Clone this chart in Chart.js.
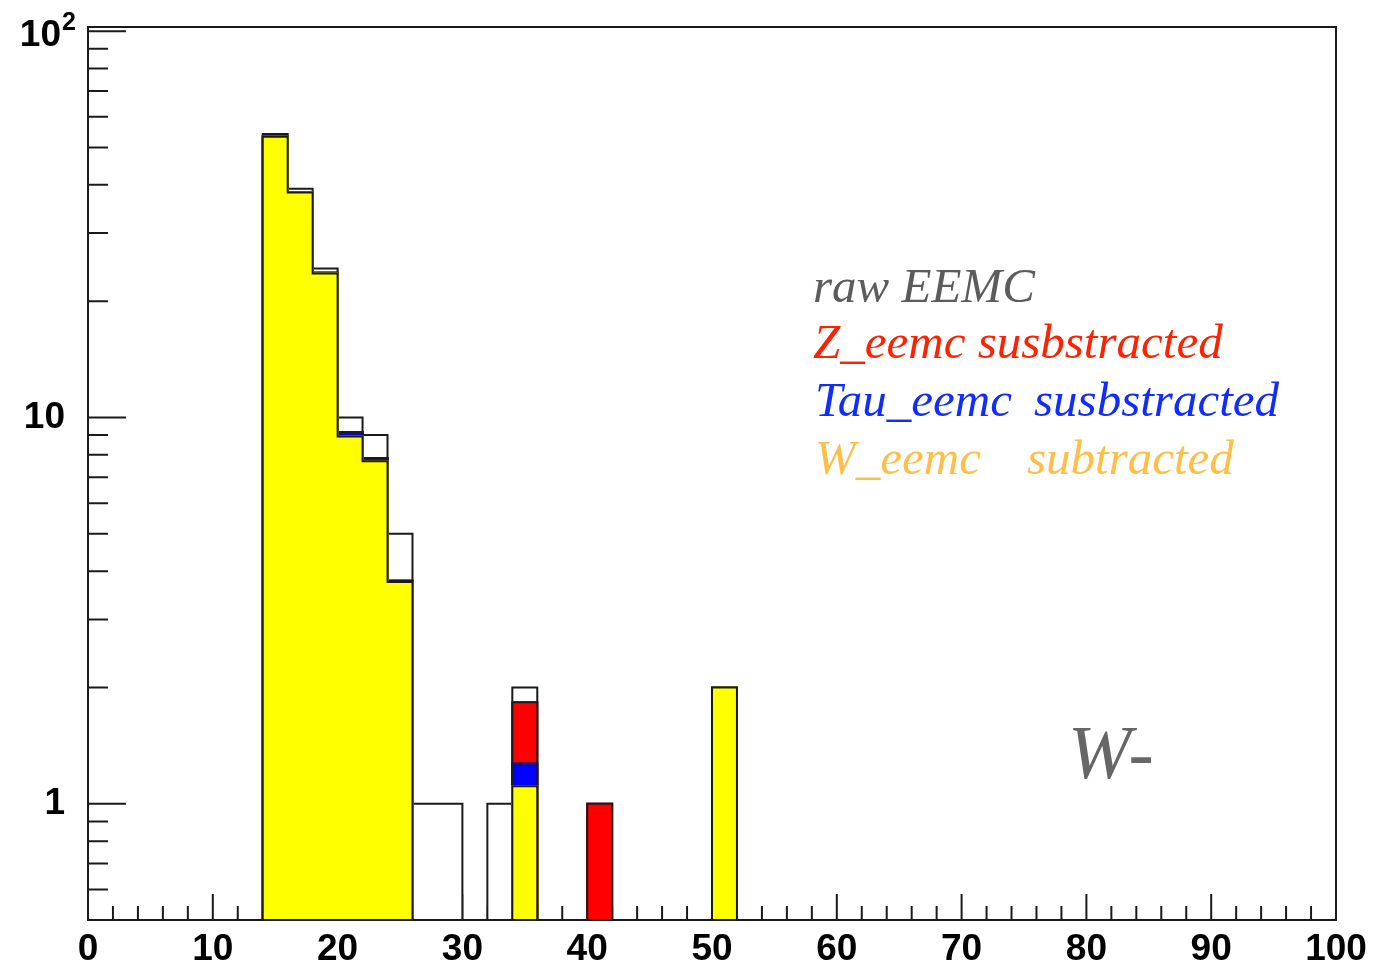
<!DOCTYPE html>
<html>
<head>
<meta charset="utf-8">
<script src="https://cdn.jsdelivr.net/npm/chart.js@4.4.0/dist/chart.umd.min.js"></script>
<style>
  html, body { margin: 0; padding: 0; background: #fff; }
  #wrap { width: 1375px; height: 969px; }
</style>
</head>
<body>
<div id="wrap"><canvas id="histChart" width="1375" height="969"></canvas></div>
<script>
// histogram bins (centre of each 2-unit bin that has entries)
const binWidth = 2;
const binCenters    = [15, 17, 19, 21, 23, 25, 27, 29, 33, 35, 41, 51];
const rawCounts     = [54.2, 39.1, 24.3, 10.0, 9.0, 5.0, 1, 1, 1, 2.0, 1, 2];
const zSubtracted   = [53.4, 38.3, 23.7, 9.15, 7.84, 3.78, null, null, null, 1.83, 1, 2];
const tauSubtracted = [53.4, 38.3, 23.7, 9.15, 7.84, 3.78, null, null, null, 1.27, null, 2];
const wSubtracted   = [53.3, 38.2, 23.6, 8.93, 7.70, 3.75, null, null, null, 1.11, null, 2];

const xTicks = [0, 10, 20, 30, 40, 50, 60, 70, 80, 90, 100];
const yTicks = [1, 10, 100];
const yMin = 0.5, yMax = 102.5;

const labelFont = { family: 'Liberation Sans', size: 37, weight: 'bold' };

function toPoints(values) {
    return binCenters.map((c, i) => ({ x: c, y: values[i] }));
}

// ROOT-like outline: step contour along the top of each histogram
const histOutline = {
    id: 'histOutline',
    afterDatasetDraw(chart, args) {
        const ds = chart.data.datasets[args.index];
        const xs = chart.scales.x, ys = chart.scales.y;
        const ctx = chart.ctx;
        const area = chart.chartArea;
        const base = ys.getPixelForValue(ys.min);
        ctx.save();
        ctx.beginPath();
        ctx.rect(area.left, area.top, area.right - area.left, area.bottom - area.top);
        ctx.clip();
        ctx.beginPath();
        let prevHi = xs.getPixelForValue(xs.min);
        let prevTop = base;
        ctx.moveTo(prevHi, base);
        ds.data.forEach(p => {
            const lo = xs.getPixelForValue(p.x - binWidth / 2);
            const hi = xs.getPixelForValue(p.x + binWidth / 2);
            const top = p.y ? ys.getPixelForValue(p.y) : base;
            if (lo - prevHi > 0.5 && prevTop !== base) {
                ctx.lineTo(prevHi, base);
            }
            ctx.lineTo(lo, prevTop !== base && lo - prevHi <= 0.5 ? prevTop : base);
            ctx.lineTo(lo, top);
            ctx.lineTo(hi, top);
            prevHi = hi;
            prevTop = top;
        });
        ctx.lineTo(prevHi, base);
        ctx.lineTo(xs.getPixelForValue(xs.max), base);
        ctx.lineWidth = 2;
        ctx.strokeStyle = '#1a1a1a';
        ctx.lineJoin = 'miter';
        ctx.stroke();
        ctx.restore();
    }
};

// tick marks pointing into the frame, drawn under the histograms
const frameTicks = {
    id: 'frameTicks',
    beforeDatasetsDraw(chart) {
        const xs = chart.scales.x, ys = chart.scales.y;
        const ctx = chart.ctx;
        const a = chart.chartArea;
        ctx.save();
        ctx.strokeStyle = '#1a1a1a';
        ctx.lineWidth = 2;
        ctx.beginPath();
        for (let v = xs.min; v <= xs.max; v += 2) {
            const px = xs.getPixelForValue(v);
            const len = v % 10 === 0 ? 26 : 14;
            ctx.moveTo(px, a.bottom);
            ctx.lineTo(px, a.bottom - len);
        }
        [0.1, 1, 10].forEach(dec => {
            for (let k = 1; k <= 9; k++) {
                const v = k * dec;
                if (v < ys.min || v > ys.max) continue;
                const py = ys.getPixelForValue(v);
                const len = k === 1 ? 38 : 20;
                ctx.moveTo(a.left, py);
                ctx.lineTo(a.left + len, py);
            }
        });
        const top = ys.getPixelForValue(100);
        ctx.moveTo(a.left, top);
        ctx.lineTo(a.left + 38, top);
        ctx.stroke();
        ctx.restore();
    },
    afterDatasetsDraw(chart) {
        const ctx = chart.ctx;
        const a = chart.chartArea;
        ctx.save();
        ctx.strokeStyle = '#1a1a1a';
        ctx.lineWidth = 2;
        ctx.strokeRect(a.left, a.top, a.right - a.left, a.bottom - a.top);
        ctx.restore();
    }
};

// 10^2 label with a raised exponent, legend text and the W- tag
const annotations = {
    id: 'annotations',
    afterDraw(chart) {
        const ctx = chart.ctx;
        const ys = chart.scales.y;
        const a = chart.chartArea;
        ctx.save();
        const py = ys.getPixelForValue(100);
        ctx.fillStyle = '#000';
        ctx.textBaseline = 'middle';
        ctx.textAlign = 'right';
        ctx.font = 'bold 37px "Liberation Sans"';
        ctx.fillText('10', a.left - 27, py + 5);
        ctx.textAlign = 'left';
        ctx.font = 'bold 25px "Liberation Sans"';
        ctx.fillText('2', a.left - 26, py - 8);

        ctx.textBaseline = 'alphabetic';
        ctx.textAlign = 'left';
        ctx.font = 'italic 49px "Liberation Serif"';
        ctx.fillStyle = '#5c5c5c';
        ctx.fillText('raw EEMC', 813, 302);
        ctx.fillStyle = 'rgb(255,34,0)';
        ctx.fillText('Z_eemc susbstracted', 813, 358);
        ctx.fillStyle = 'rgb(16,44,255)';
        ctx.fillText('Tau_eemc', 815, 416);
        ctx.fillText('susbstracted', 1034, 416);
        ctx.fillStyle = 'rgb(255,190,70)';
        ctx.fillText('W_eemc', 815, 474);
        ctx.fillText('subtracted', 1027, 474);
        ctx.font = 'italic 76px "Liberation Serif"';
        ctx.fillStyle = '#666666';
        ctx.fillText('W-', 1068, 778);
        ctx.restore();
    }
};

const ctx = document.getElementById('histChart').getContext('2d');
new Chart(ctx, {
    type: 'bar',
    data: {
        datasets: [
            { label: 'raw EEMC', data: toPoints(rawCounts), backgroundColor: '#ffffff', order: 4 },
            { label: 'Z_eemc susbstracted', data: toPoints(zSubtracted), backgroundColor: '#ff0000', order: 3 },
            { label: 'Tau_eemc susbstracted', data: toPoints(tauSubtracted), backgroundColor: '#0000ff', order: 2 },
            { label: 'W_eemc subtracted', data: toPoints(wSubtracted), backgroundColor: '#ffff00', order: 1 }
        ]
    },
    options: {
        responsive: false,
        animation: false,
        layout: { padding: { top: 27, right: 39, left: 0, bottom: 0 } },
        datasets: {
            bar: { grouped: false, barPercentage: 1, categoryPercentage: 1, borderWidth: 0, inflateAmount: 1 }
        },
        plugins: {
            legend: { display: false },
            tooltip: { enabled: false }
        },
        scales: {
            x: {
                type: 'linear',
                min: 0,
                max: 100,
                offset: false,
                grid: { display: false },
                border: { display: false },
                afterBuildTicks: s => { s.ticks = xTicks.map(v => ({ value: v })); },
                afterFit: s => { s.height = 49; },
                ticks: {
                    autoSkip: false,
                    maxRotation: 0,
                    padding: 0,
                    color: '#000',
                    font: labelFont
                }
            },
            y: {
                type: 'logarithmic',
                min: yMin,
                max: yMax,
                grid: { display: false },
                border: { display: false },
                afterBuildTicks: s => { s.ticks = yTicks.map(v => ({ value: v })); },
                afterFit: s => { s.width = 88; s.paddingTop = 0; s.paddingBottom = 0; },
                ticks: {
                    autoSkip: false,
                    padding: 15,
                    color: '#000',
                    font: labelFont,
                    callback: v => v === 100 ? '' : String(v)
                }
            }
        }
    },
    plugins: [frameTicks, histOutline, annotations]
});
</script>
</body>
</html>
